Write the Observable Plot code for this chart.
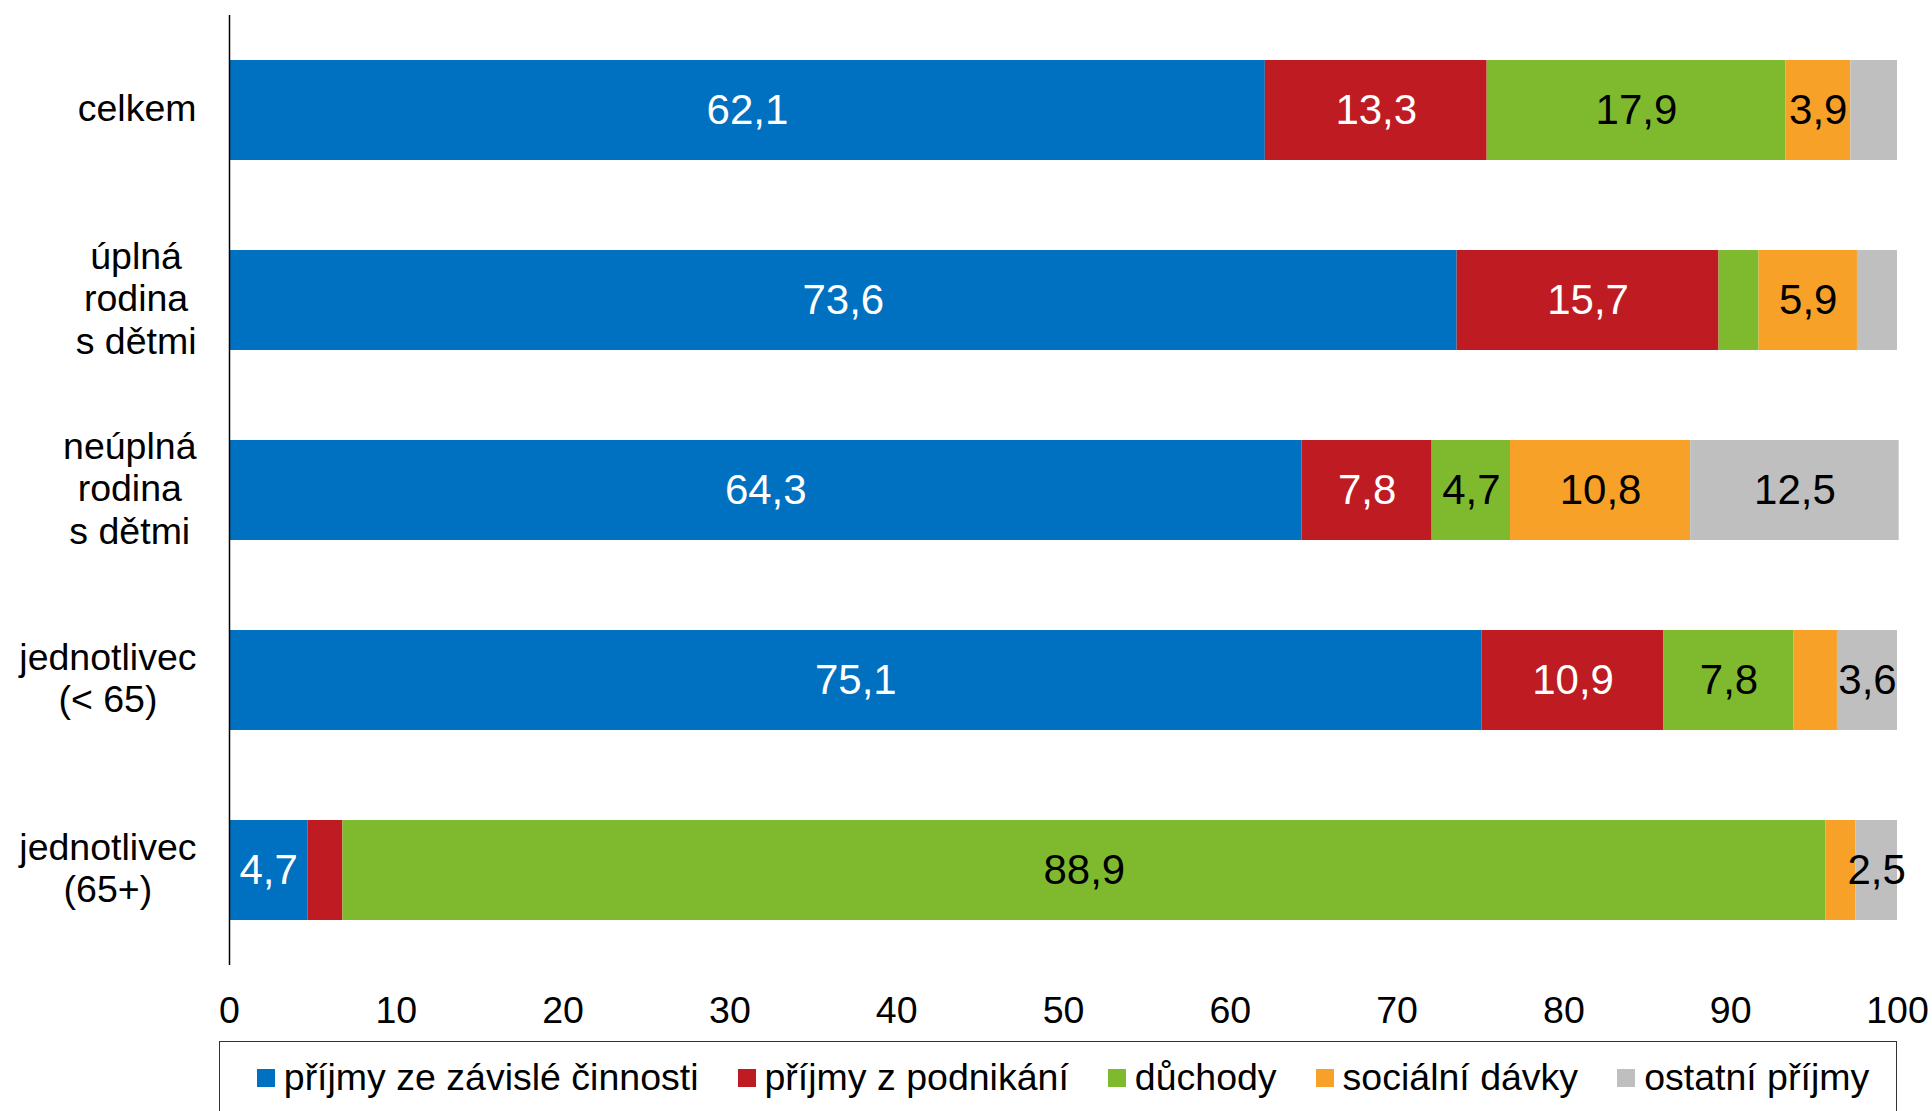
<!DOCTYPE html>
<html>
<head>
<meta charset="utf-8">
<script src="https://cdn.jsdelivr.net/npm/d3@7"></script>
<script src="https://cdn.jsdelivr.net/npm/@observablehq/plot@0.6"></script>
<style>
  html, body { margin: 0; padding: 0; background: #fff; }
  body { font-family: "Liberation Sans", Arial, sans-serif; width: 1932px; height: 1111px; overflow: hidden; }
  #legend {
    box-sizing: border-box;
    margin-left: 219px; margin-top: 11px; width: 1678px; height: 120px;
    border: 1.5px solid #333;
    display: flex; justify-content: center; align-items: flex-start;
    padding-top: 14px; padding-left: 10px; gap: 39px;
    font-size: 37.5px; color: #000;
  }
  .item { display: flex; align-items: center; gap: 9px; white-space: nowrap; }
  .sw { width: 18px; height: 18px; display: inline-block; }
</style>
</head>
<body>
<div id="chart"></div>
<div id="legend"></div>
<script>
// ---- data ----
const categories = ["celkem", "úplná\nrodina\ns dětmi", "neúplná\nrodina\ns dětmi", "jednotlivec\n(< 65)", "jednotlivec\n(65+)"];
const series = ["příjmy ze závislé činnosti", "příjmy z podnikání", "důchody", "sociální dávky", "ostatní příjmy"];
const colors = ["#0070C0", "#BE1B22", "#7FBA2E", "#F7A128", "#BFBFBF"];
const labelColors = ["#fff", "#fff", "#000", "#000", "#000"];

const zavisla   = [62.1, 73.6, 64.3, 75.1, 4.7];
const podnikani = [13.3, 15.7, 7.8, 10.9, 2.1];
const duchody   = [17.9, 2.4, 4.7, 7.8, 88.9];
const davky     = [3.9, 5.9, 10.8, 2.6, 1.8];
const ostatni   = [2.8, 2.4, 12.5, 3.6, 2.5];

// which segment values carry a data label in the original
const showZavisla   = [true, true, true, true, true];
const showPodnikani = [true, true, true, true, false];
const showDuchody   = [true, false, true, true, true];
const showDavky     = [true, true, true, false, false];
const showOstatni   = [false, false, true, true, true];

const xTicks = [0, 10, 20, 30, 40, 50, 60, 70, 80, 90, 100];

// ---- build table ----
const values = [zavisla, podnikani, duchody, davky, ostatni];
const shows = [showZavisla, showPodnikani, showDuchody, showDavky, showOstatni];
const data = [];
categories.forEach((c, i) => {
  series.forEach((s, j) => {
    data.push({cat: c, series: s, si: j, value: values[j][i], show: shows[j][i]});
  });
});
const fmt = v => d3.format(".1f")(v).replace(".", ",");

const FONT = '"Liberation Sans", Arial, sans-serif';
const FS = 37.5;
const marginLeft = 229;

// measure label widths to right-align blocks with centered lines
const ctx = document.createElement("canvas").getContext("2d");
ctx.font = FS + "px " + FONT;
const labelMarks = categories.map(c => {
  const w = d3.max(c.split("\n"), l => ctx.measureText(l).width);
  return Plot.text([c], {
    y: d => d, text: d => d, frameAnchor: "left",
    textAnchor: "middle", lineAnchor: "middle", lineHeight: 42.5 / FS,
    dx: -33 - w / 2, dy: -3, fontSize: FS, fill: "#000"
  });
});

const chart = Plot.plot({
  width: 1932, height: 1030,
  marginLeft, marginRight: 35, marginTop: 15, marginBottom: 65,
  style: {fontFamily: FONT, background: "#fff"},
  x: {domain: [0, 100], label: null},
  y: {domain: categories, axis: null, paddingInner: 0.474, paddingOuter: 0.237},
  color: {domain: series, range: colors},
  marks: [
    Plot.barX(data, Plot.stackX({x: "value", y: "cat", fill: "series"})),
    Plot.text(data, Plot.stackX({x: "value", y: "cat", z: "series",
      text: d => d.show ? fmt(d.value) : "", fill: d => labelColors[d.si], fontSize: 42})),
    Plot.ruleX([0], {stroke: "#000", strokeWidth: 1.5}),
    Plot.axisX({ticks: xTicks, tickSize: 0, tickPadding: 31, fontSize: FS, fill: "#000", label: null}),
    ...labelMarks
  ]
});
document.getElementById("chart").appendChild(chart);

// legend
const leg = document.getElementById("legend");
series.forEach((s, j) => {
  const it = document.createElement("div");
  it.className = "item";
  it.innerHTML = `<span class="sw" style="background:${colors[j]}"></span><span>${s}</span>`;
  leg.appendChild(it);
});
</script>
</body>
</html>
